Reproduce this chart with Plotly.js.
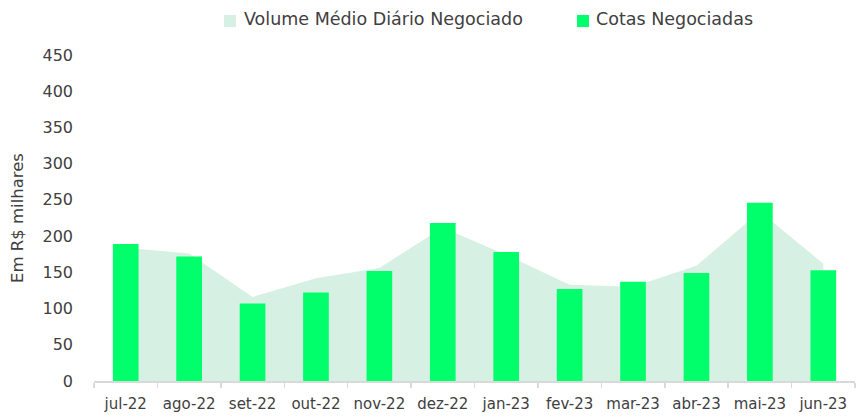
<!DOCTYPE html>
<html>
<head>
<meta charset="utf-8">
<script src="https://cdn.plot.ly/plotly-3.0.1.min.js"></script>
<style>
html,body{margin:0;padding:0;background:#fff;}
#chart{width:856px;height:417px;}
</style>
</head>
<body>
<div id="chart"></div>
<script>
const months = ["jul-22","ago-22","set-22","out-22","nov-22","dez-22","jan-23","fev-23","mar-23","abr-23","mai-23","jun-23"];
const volumeMedio = [184,176,116,142,156,212,174,133,130,159,234,162];
const cotasNegociadas = [189,172,107,122,152,218,178,127,137,149,246,153];
const yTicks = [0,50,100,150,200,250,300,350,400,450];
const seriesNames = ["Volume Médio Diário Negociado", "Cotas Negociadas"];
const seriesColors = ["#D6F1E3", "#00FF6A"];

const txtColor = "#404040";
const fontFam = "'DejaVu Sans', sans-serif";

// plot-area geometry (px) used to place the hand-made legend
const M = {l: 94, r: 1, t: 55, b: 36};
const W = 856, H = 417;
const pw = W - M.l - M.r, ph = H - M.t - M.b;
const px2x = p => (p - M.l) / pw;
const px2y = p => (H - M.b - p) / ph;

const traces = [
  {
    type: "scatter",
    name: seriesNames[0],
    x: months,
    y: volumeMedio,
    xaxis: "x",
    yaxis: "y",
    mode: "lines",
    line: {color: seriesColors[0], width: 0},
    fill: "tozeroy",
    fillcolor: seriesColors[0],
    showlegend: false
  },
  {
    type: "bar",
    name: seriesNames[1],
    x: months,
    y: cotasNegociadas,
    xaxis: "x2",
    yaxis: "y2",
    marker: {color: seriesColors[1]},
    showlegend: false
  }
];

const legendItems = [
  {box: [224, 236], text: 242},
  {box: [577, 589], text: 594}
];
const shapes = legendItems.map((it, i) => ({
  type: "rect", xref: "paper", yref: "paper",
  x0: px2x(it.box[0]), x1: px2x(it.box[1]),
  y0: px2y(27), y1: px2y(15),
  fillcolor: seriesColors[i], line: {width: 0}
}));
const annotations = legendItems.map((it, i) => ({
  xref: "paper", yref: "paper",
  x: px2x(it.text), y: px2y(19),
  xanchor: "left", yanchor: "middle",
  text: seriesNames[i], showarrow: false,
  font: {family: fontFam, size: 17.5, color: txtColor}
}));

const layout = {
  width: W,
  height: H,
  margin: M,
  paper_bgcolor: "#fff",
  plot_bgcolor: "rgba(0,0,0,0)",
  font: {family: fontFam, color: txtColor, size: 15},
  bargap: 0.595,
  showlegend: false,
  shapes: shapes,
  annotations: annotations,
  xaxis: {
    type: "category",
    categoryarray: months,
    range: [-0.5, 11.5],
    showline: true, linecolor: "#D9D9D9", linewidth: 1.5,
    ticks: "outside", tickson: "boundaries", ticklen: 5, tickcolor: "#D9D9D9", tickwidth: 1.5,
    showgrid: false, zeroline: false,
    ticklabelstandoff: 8,
    tickfont: {size: 15, color: txtColor}
  },
  yaxis: {
    range: [0, 450],
    tickvals: yTicks,
    showgrid: false, zeroline: false, showline: false, ticks: "",
    ticklabelstandoff: 20,
    tickfont: {size: 16, color: txtColor},
    title: {text: "Em R$ milhares", font: {size: 16.5, color: txtColor}, standoff: 14}
  },
  xaxis2: {
    type: "category",
    categoryarray: months,
    range: [-0.5, 11.5],
    overlaying: "x",
    showticklabels: false, showgrid: false, showline: false, ticks: "", zeroline: false
  },
  yaxis2: {
    range: [0, 450],
    overlaying: "y",
    showticklabels: false, showgrid: false, showline: false, ticks: "", zeroline: false
  }
};

Plotly.newPlot("chart", traces, layout, {displayModeBar: false, staticPlot: true});
</script>
</body>
</html>
